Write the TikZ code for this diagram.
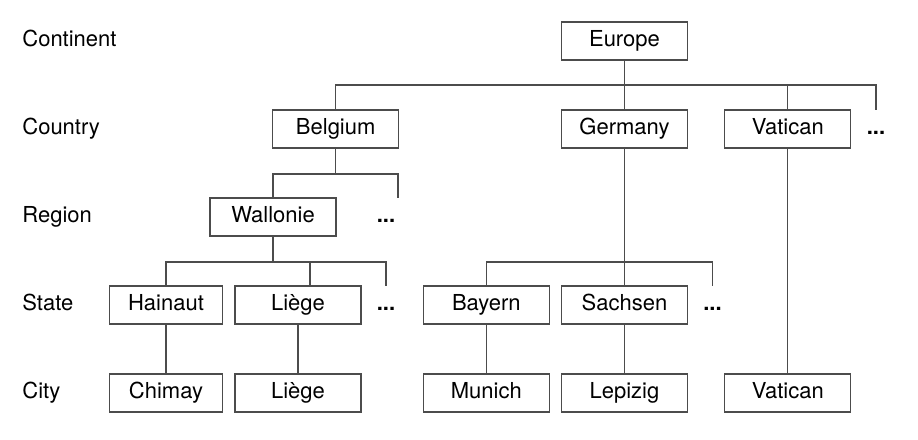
\documentclass[tikz,border=0pt]{standalone}
\usepackage{fontspec}
\setmainfont{TeX Gyre Heros}
\usetikzlibrary{calc}

\tikzset{
    box/.style={draw=black!70, line width=0.6pt, minimum width=63pt, minimum height=19pt,
        inner sep=0pt, text height=8pt, text depth=2.5pt},
    moredots/.style={inner sep=0pt, text height=8pt, text depth=2.5pt, font=\fontsize{11pt}{13pt}\selectfont\bfseries},
    rowname/.style={anchor=west, inner sep=0pt, text height=8pt, text depth=2.5pt},
    link/.style={draw=black!70, line width=0.6pt}
}

\begin{document}
\begin{tikzpicture}[x=0.5pt, y=-0.5pt, font=\fontsize{11pt}{13pt}\selectfont]
    \useasboundingbox (0,0) rectangle (918,440);

    % level names
    \foreach \y/\t in {41/Continent, 129/Country, 217/Region, 305/State, 393/City}
        \node[rowname] (row\t) at (22,\y) {\t};

    % boxes
    \foreach \n/\x/\y/\t in {
        europe/624.5/41/Europe,
        belgium/335.7/129/Belgium, germany/624.5/129/Germany, vatican/787.8/129/Vatican,
        wallonie/273/217/Wallonie,
        liege/298/305/Liège, bayern/486.3/305/Bayern, sachsen/624.5/305/Sachsen,
        liegecity/298/393/Liège, munich/486.3/393/Munich, lepizig/624.5/393/Lepizig,
        vaticancity/787.8/393/Vatican}
        \node[box] (\n) at (\x,\y) {\t};
    \node[box, minimum width=56.5pt] (hainaut) at (166,305) {Hainaut};
    \node[box, minimum width=56.5pt] (chimay) at (166,393) {Chimay};

    % the ... entries
    \node[moredots] (dotsC) at (876,129) {...};
    \node[moredots] (dotsR) at (386,217) {...};
    \node[moredots] (dotsW) at (386,305) {...};
    \node[moredots] (dotsG) at (712.5,305) {...};

    % bus lines and open ends
    \coordinate (busC) at (0,85);
    \coordinate (busR) at (0,174);
    \coordinate (busS) at (0,262);
    \coordinate (endC) at (876,110);
    \coordinate (endR) at (398,198);
    \coordinate (endW) at (386,286);
    \coordinate (endG) at (712.5,286);
    \coordinate (liegetop) at ([xshift=6pt]liege.north);

    \draw[link] (europe) -- (europe |- busC);
    \draw[link] (belgium) |- (endC |- busC) -- (endC);
    \draw[link] (germany) -- (germany |- busC);
    \draw[link] (vatican) -- (vatican |- busC);

    \draw[link] (belgium) -- (belgium |- busR);
    \draw[link] (wallonie) |- (endR |- busR) -- (endR);

    \draw[link] (wallonie) -- (wallonie |- busS);
    \draw[link] (hainaut) |- (endW |- busS) -- (endW);
    \draw[link] (liegetop) -- (liegetop |- busS);
    \draw[link] (bayern) |- (endG |- busS) -- (endG);

    \foreach \a/\b in {germany/sachsen, vatican/vaticancity, hainaut/chimay,
        liege/liegecity, bayern/munich, sachsen/lepizig}
        \draw[link] (\a) -- (\b);

\end{tikzpicture}
\end{document}
